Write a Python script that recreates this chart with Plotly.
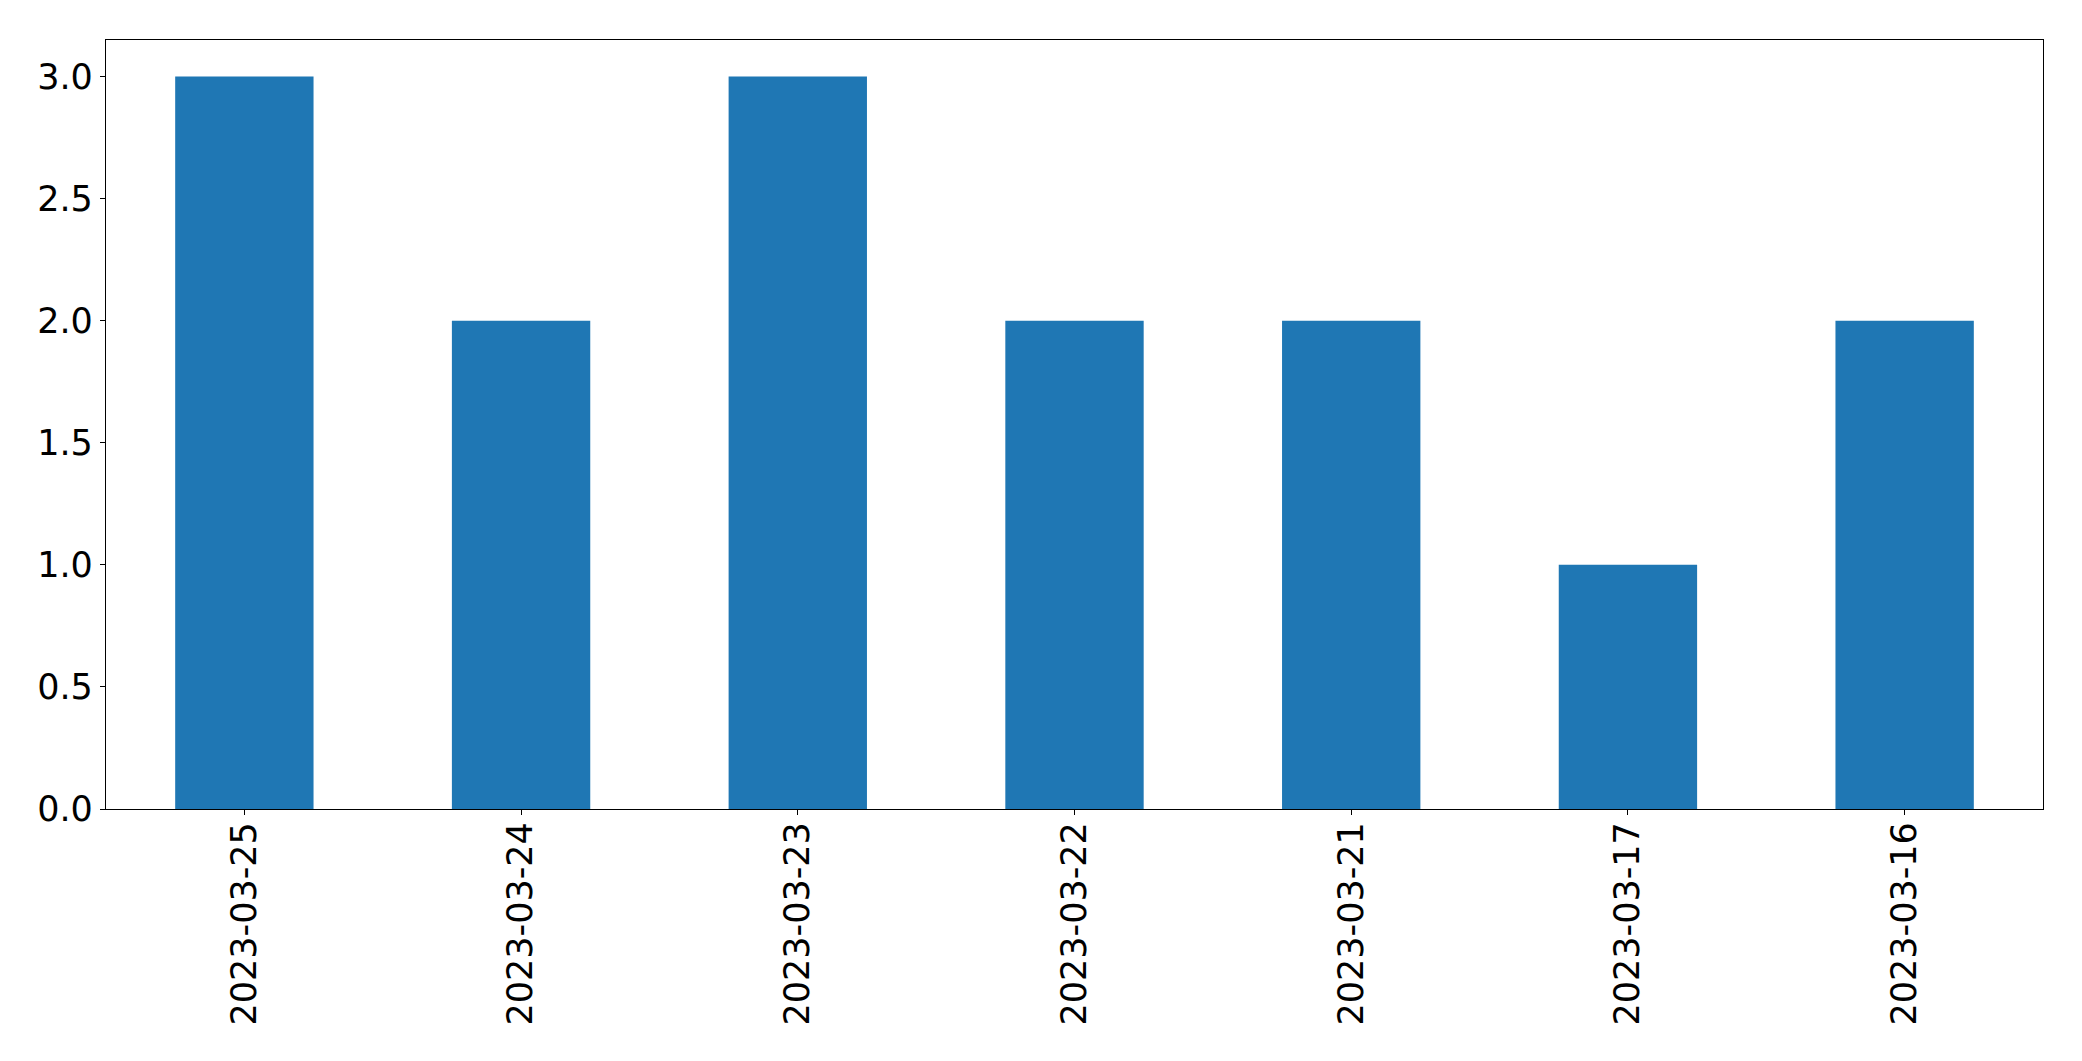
import plotly.graph_objects as go

dates = ["2023-03-25", "2023-03-24", "2023-03-23", "2023-03-22", "2023-03-21", "2023-03-17", "2023-03-16"]
counts = [3, 2, 3, 2, 2, 1, 2]
y_ticks = [0.0, 0.5, 1.0, 1.5, 2.0, 2.5, 3.0]
y_tick_text = ["0.0", "0.5", "1.0", "1.5", "2.0", "2.5", "3.0"]

fig = go.Figure(go.Bar(x=dates, y=counts, width=0.5, marker=dict(color="#1f77b4", line=dict(width=0))))

font = dict(family="DejaVu Sans", size=35, color="black")
# page body has an 8px margin: compensate so the plot area lands where it should
fig.update_layout(
    width=2066, height=1045,
    margin=dict(l=97.5, r=31, t=31.5, b=244),
    plot_bgcolor="white", paper_bgcolor="white",
    showlegend=False,
)
fig.update_xaxes(
    type="category", range=[-0.5, 6.5], tickangle=-90, tickfont=font,
    showline=True, linecolor="black", linewidth=1.3, mirror=True,
    ticks="outside", ticklen=5, tickwidth=1.3, tickcolor="black",
    ticklabelstandoff=-7,
    showgrid=False, zeroline=False,
)
fig.update_yaxes(
    range=[0, 3.15], tickvals=y_ticks, ticktext=y_tick_text, tickfont=font,
    showline=True, linecolor="black", linewidth=1.3, mirror=True,
    ticks="outside", ticklen=5, tickwidth=1.3, tickcolor="black",
    showgrid=False, zeroline=False,
)
fig.write_html("out.html")
